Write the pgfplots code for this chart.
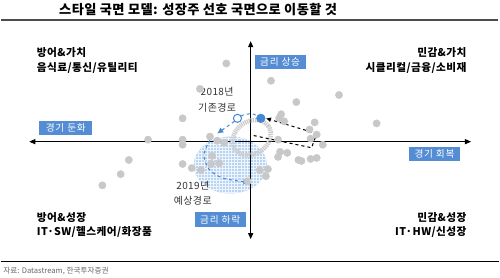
\documentclass[border=0pt]{standalone}
\usepackage{pgfplots}
\pgfplotsset{compat=1.18}
\usepackage{fontspec}
\setmainfont{Noto Sans CJK KR}
\usetikzlibrary{arrows.meta,patterns}
\definecolor{boxblue}{RGB}{84,141,212}
\definecolor{pathblue}{RGB}{70,135,210}
\definecolor{dotgray}{RGB}{200,200,200}
\definecolor{ellblue}{RGB}{185,211,242}
\newcommand{\qfont}{\bfseries\fontsize{10.5}{12}\selectfont\addfontfeatures{LetterSpace=4}}
\newcommand{\bfont}{\fontsize{9.5}{10}\selectfont\addfontfeatures{LetterSpace=8}}
\newcommand{\afont}{\fontsize{9.8}{11}\selectfont\addfontfeatures{LetterSpace=4}}
\begin{document}
\begin{tikzpicture}
\begin{axis}[
  width=500pt, height=280pt, scale only axis,
  xmin=0, xmax=500, ymin=0, ymax=280, y dir=reverse,
  hide axis, clip=false,
]
% shaded ellipse
\fill[ellblue] (axis cs:233,168) ellipse [x radius=36pt, y radius=28pt];
\fill[pattern=grid, pattern color=white!75!ellblue] (axis cs:233,168) ellipse [x radius=36pt, y radius=28pt];
% axes
\addplot[black, line width=1.1pt, {Triangle[length=6pt,width=5pt]}-{Triangle[length=6pt,width=5pt]}] coordinates {(35,145) (470,145)};
\addplot[black, line width=1.1pt, {Triangle[length=6pt,width=5pt]}-{Triangle[length=6pt,width=5pt]}] coordinates {(253,46) (253,241)};
% scatter points
\addplot[only marks, color=dotgray, mark=*, mark size=3.6pt, mark options={fill=dotgray, draw=dotgray}] table {
x y
229 68
203 93
273 85
340 99
298 106
186 122
283 118
281 122
286 125
377 127
316 126
311 133
318 138
312 142
324 148
280 143
152 143
186 143
186 148
213 140
220 144
227 146
133 163
125 177
107 188
186 167
195 171
204 173
215 159
214 167
222 166
282 155
289 156
280 160
300 163
303 164
312 162
318 161
270 172
268 179
262 173
250 184
};
% gray textured ring
\draw[gray!40, line width=4.5pt, dash pattern=on 1.2pt off 0.8pt, rotate around={35:(axis cs:254,141)}] (axis cs:254,141) ellipse [x radius=20pt, y radius=16pt];
% black dashed path
\addplot[black, line width=1pt, dashed, -{Latex[length=5pt,width=5pt]}] coordinates {(256,139) (313,151) (318,137) (268,122)};
% blue 2018 path
\addplot[pathblue, line width=1pt, dashed, smooth] coordinates {(263,122) (256,118) (248,118) (241,121)};
\addplot[pathblue, line width=1pt, dashed, -{Latex[length=6pt,width=6pt]}] coordinates {(237,125) (220,137)};
% blue 2019 path
\addplot[pathblue, line width=1pt, dashed, smooth, -{Latex[length=6pt,width=6pt]}] coordinates {(213,143) (207,158) (212,172) (226,181) (252,185)};
% circles
\addplot[only marks, color=pathblue, mark=*, mark size=4.3pt, mark options={fill=pathblue, draw=pathblue}] coordinates {(263,122)};
\addplot[only marks, color=pathblue, mark=*, mark size=4pt, mark options={fill=white, draw=pathblue, line width=1pt}] coordinates {(240,122)};
% title and rules
\node[anchor=west, font=\bfseries\fontsize{13}{15}\selectfont\addfontfeatures{LetterSpace=3}] at (axis cs:61,15) {스타일 국면 모델: 성장주 선호 국면으로 이동할 것};
\addplot[black!70, line width=1.5pt] coordinates {(7,25) (497,25)};
\addplot[black, line width=1pt] coordinates {(7,263) (498,263)};
\node[anchor=west, text=black!60, font=\fontsize{7.5}{9}\selectfont] at (axis cs:6,272) {자료: Datastream, 한국투자증권};
% quadrant labels
\node[anchor=west, font=\qfont] at (axis cs:39,57) {방어\&가치};
\node[anchor=west, font=\qfont] at (axis cs:39,72) {음식료/통신/유틸리티};
\node[anchor=east, font=\qfont] at (axis cs:469,57) {민감\&가치};
\node[anchor=east, font=\qfont] at (axis cs:469,72) {시클리컬/금융/소비재};
\node[anchor=west, font=\qfont] at (axis cs:39,220) {방어\&성장};
\node[anchor=west, font=\qfont] at (axis cs:39,234) {IT·SW/헬스케어/화장품};
\node[anchor=east, font=\qfont] at (axis cs:469,220) {민감\&성장};
\node[anchor=east, font=\qfont] at (axis cs:469,234) {IT·HW/신성장};
% blue boxes
\node[fill=boxblue, text=white, minimum width=50pt, minimum height=13pt, inner sep=0pt, font=\bfont] at (axis cs:282,66.5) {금리 상승};
\node[fill=boxblue, text=white, minimum width=52pt, minimum height=13pt, inner sep=0pt, font=\bfont] at (axis cs:71,131.5) {경기 둔화};
\node[fill=boxblue, text=white, minimum width=50pt, minimum height=14pt, inner sep=0pt, font=\bfont] at (axis cs:434,157) {경기 회복};
\node[fill=boxblue, text=white, minimum width=50pt, minimum height=15pt, inner sep=0pt, font=\bfont] at (axis cs:223,222) {금리 하락};
% path annotations
\node[font=\afont, text=black!80] at (axis cs:220,96) {2018년};
\node[font=\afont, text=black!80] at (axis cs:220,112) {기존경로};
\node[font=\afont, text=black!80] at (axis cs:196,188) {2019년};
\node[font=\afont, text=black!80] at (axis cs:196,203) {예상경로};
\end{axis}
\end{tikzpicture}
\end{document}
